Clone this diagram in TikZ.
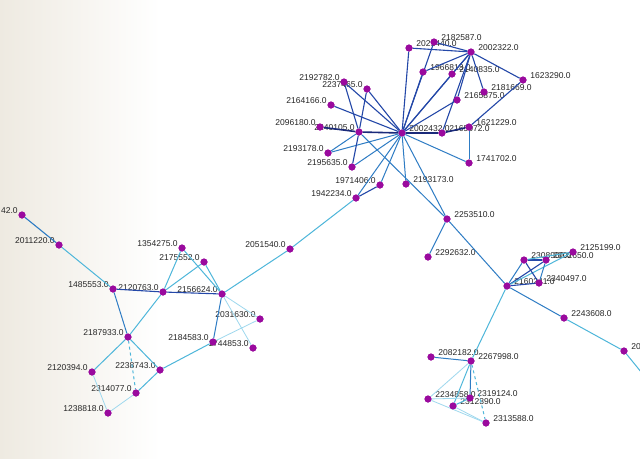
\documentclass[tikz,border=0pt]{standalone}
\usepackage{fontspec}
\setmainfont{Liberation Sans}
\begin{document}
\begin{tikzpicture}[x=1pt,y=-1pt,
  v/.style={circle,fill=nodec,inner sep=0pt,minimum size=7pt},
  lbl/.style={font=\fontsize{8.5}{9}\selectfont,text=black!85,inner sep=0.5pt,yshift=4pt},
  R/.style={label={[lbl,label distance=3pt]right:#1}},
  L/.style={label={[lbl,label distance=0pt]left:#1}},
  dk/.style={draw=edk,line width=1.1pt},
  dd/.style={draw=eddk,line width=1.6pt},
  md/.style={draw=emd,line width=1pt},
  lt/.style={draw=elt,line width=1pt},
  vl/.style={draw=evl,line width=0.8pt}]
\definecolor{nodec}{HTML}{9A0A9E}
\definecolor{edk}{HTML}{2448A8}
\definecolor{eddk}{HTML}{1A2A7A}
\definecolor{emd}{HTML}{2E7CC4}
\definecolor{elt}{HTML}{4DB6DA}
\definecolor{evl}{HTML}{9ED8EE}
\definecolor{bgl}{HTML}{EEEAE1}
\useasboundingbox (0,0) rectangle (640,458);
\fill[left color=bgl,right color=white] (0,0) rectangle (160,458);
\fill[white] (160,0) rectangle (640,458);
% nodes
\node[v,R={2002432.0}] (H) at (402,133) {};
\node[v,R={2165072.0}] (a2165072) at (442,133) {};
\node[v,R={1621229.0}] (a1621229) at (469,127) {};
\node[v,R={2021440.0}] (a2021440) at (409,48) {};
\node[v,R={2182587.0}] (a2182587) at (434,42) {};
\node[v,R={2002322.0}] (a2002322) at (471,52) {};
\node[v,R={1966813.0}] (a1966813) at (423,72) {};
\node[v,R={2140835.0}] (a2140835) at (452,74) {};
\node[v,R={1623290.0}] (a1623290) at (523,80) {};
\node[v,R={2181669.0}] (a2181669) at (484,92) {};
\node[v,R={2165875.0}] (a2165875) at (457,100) {};
\node[v,L={2192782.0}] (a2192782) at (344,82) {};
\node[v,L={2237465.0}] (a2237465) at (367,89) {};
\node[v,L={2164166.0}] (a2164166) at (331,105) {};
\node[v,L={2096180.0}] (a2096180) at (320,127) {};
\node[v,L={2240105.0}] (a2240105) at (359,132) {};
\node[v,L={2193178.0}] (a2193178) at (328,153) {};
\node[v,L={2195635.0}] (a2195635) at (352,167) {};
\node[v,L={1971406.0}] (a1971406) at (380,185) {};
\node[v,L={1942234.0}] (a1942234) at (356,198) {};
\node[v,R={2193173.0}] (a2193173) at (406,184) {};
\node[v,R={1741702.0}] (a1741702) at (469,163) {};
\node[v,R={2253510.0}] (a2253510) at (447,219) {};
\node[v,R={2292632.0}] (a2292632) at (428,257) {};
\node[v,R={2160241.0}] (a2160241) at (507,286) {};
\node[v,R={2308900.0}] (a2308900) at (524,260) {};
\node[v,R={2002650.0}] (a2002650) at (546,260) {};
\node[v,R={2125199.0}] (a2125199) at (573,252) {};
\node[v,R={2340497.0}] (a2340497) at (539,283) {};
\node[v,R={2243608.0}] (a2243608) at (564,318) {};
\node[v,R={20}] (aR20) at (624,351) {};
\coordinate (offR) at (646,378);
\node[v,R={2082182.0}] (a2082182) at (431,357) {};
\node[v,R={2267998.0}] (a2267998) at (471,361) {};
\node[v,R={2234858.0}] (a2234858) at (428,399) {};
\node[v,R={2319124.0}] (a2319124) at (470,398) {};
\node[v,R={2312390.0}] (a2312390) at (453,406) {};
\node[v,R={2313588.0}] (a2313588) at (486,423) {};
\node[v,L={42.0}] (a42) at (22,215) {};
\node[v,L={2011220.0}] (a2011220) at (59,245) {};
\node[v,L={1354275.0}] (a1354275) at (182,248) {};
\node[v,L={2175552.0}] (a2175552) at (204,262) {};
\node[v,L={2051540.0}] (a2051540) at (290,249) {};
\node[v,L={1485553.0}] (a1485553) at (113,289) {};
\node[v,L={2120763.0}] (a2120763) at (163,292) {};
\node[v,L={2156624.0}] (a2156624) at (222,294) {};
\node[v,L={2031630.0}] (a2031630) at (260,319) {};
\node[v,L={2187933.0}] (a2187933) at (128,337) {};
\node[v,L={2184583.0}] (a2184583) at (213,342) {};
\node[v,L={1744853.0}] (a1744853) at (253,348) {};
\node[v,L={2238743.0}] (a2238743) at (160,370) {};
\node[v,L={2314077.0}] (a2314077) at (136,393) {};
\node[v,L={2120394.0}] (a2120394) at (92,372) {};
\node[v,L={1238818.0}] (a1238818) at (108,413) {};
% edges
\foreach \b in {a2021440,a2182587,a2002322,a1966813,a2140835,a2165875,a2192782,a2237465,a2164166}
  \draw[dk] (H) -- (\b);
\draw[dd] (a2096180) -- (a2240105) -- (H);
\draw[dd] (H) -- (a2165072) -- (a1621229);
\foreach \b in {a2193178,a2195635,a1971406,a1942234,a2193173,a1741702}
  \draw[md] (H) -- (\b);
\draw[dk] (a2021440) -- (a2002322);
\draw[dk] (a2182587) -- (a2002322);
\draw[dk] (a2002322) -- (a1966813);
\draw[dk] (a2002322) -- (a2140835);
\draw[dk] (a2002322) -- (a2165875);
\draw[dk] (a2002322) -- (a2181669);
\draw[dk] (a2002322) -- (a2165072);
\draw[dk] (a2002322) -- (a1623290);
\draw[dk] (a1623290) -- (a1621229);
\draw[md] (a1621229) -- (a1741702);
\draw[dk] (a2192782) -- (a2240105);
\draw[dk] (a2237465) -- (a2240105);
\draw[dk] (a2240105) -- (a2195635);
\draw[md] (a2240105) -- (a2193178);
\draw[md] (a2240105) -- (a2253510);
\draw[md] (H) -- (a2253510);
\draw[dk] (a1942234) -- (a1971406);
\draw[lt] (a1942234) -- (a2051540);
\draw[lt] (a2051540) -- (a2156624);
\draw[dk] (a2120763) -- (a2156624);
\draw[dk] (a2120763) -- (a1485553);
\draw[lt] (a1354275) -- (a2120763);
\draw[lt] (a1354275) -- (a2156624);
\draw[lt] (a2175552) -- (a2120763);
\draw[lt] (a2175552) -- (a2156624);
\draw[lt] (a1485553) -- (a2011220);
\draw[emd,line width=1.1pt] (a2011220) -- (a42);
\draw[md] (a1485553) -- (a2187933);
\draw[lt] (a2120763) -- (a2187933);
\draw[lt] (a2187933) -- (a2120394);
\draw[lt] (a2187933) -- (a2238743);
\draw[lt,dashed] (a2187933) -- (a2314077);
\draw[lt] (a2238743) -- (a2314077);
\draw[lt] (a2238743) -- (a2184583);
\draw[vl] (a2314077) -- (a1238818);
\draw[vl] (a2120394) -- (a1238818);
\draw[md] (a2156624) -- (a2184583);
\draw[vl] (a2184583) -- (a2031630);
\draw[vl] (a2156624) -- (a2031630);
\draw[vl] (a2156624) -- (a1744853);
\draw[md] (a2253510) -- (a2292632);
\draw[md] (a2253510) -- (a2160241);
\draw[md] (a2160241) -- (a2308900);
\draw[dk] (a2160241) -- (a2002650);
\draw[lt] (a2160241) -- (a2125199);
\draw[dk] (a2160241) -- (a2340497);
\draw[dk] (a2308900) -- (a2002650);
\draw[dk] (a2308900) -- (a2340497);
\draw[md] (a2002650) -- (a2340497);
\draw[lt] (a2308900) -- (a2125199);
\draw[md] (a2160241) -- (a2243608);
\draw[lt] (a2243608) -- (aR20);
\draw[lt] (aR20) -- (offR);
\draw[lt] (a2160241) -- (a2267998);
\draw[md] (a2267998) -- (a2082182);
\draw[vl] (a2267998) -- (a2234858);
\draw[md] (a2267998) -- (a2319124);
\draw[lt] (a2267998) -- (a2312390);
\draw[lt,dashed] (a2267998) -- (a2313588);
\draw[vl] (a2234858) -- (a2319124);
\draw[vl] (a2234858) -- (a2313588);
\draw[lt] (a2312390) -- (a2319124);
\draw[vl] (a2312390) -- (a2313588);
% nodes drawn again above the edges
\foreach \n in {H,a2165072,a1621229,a2021440,a2182587,a2002322,a1966813,a2140835,a1623290,a2181669,a2165875,a2192782,a2237465,a2164166,a2096180,a2240105,a2193178,a2195635,a1971406,a1942234,a2193173,a1741702,a2253510,a2292632,a2160241,a2308900,a2002650,a2125199,a2340497,a2243608,aR20,a2082182,a2267998,a2234858,a2319124,a2312390,a2313588,a42,a2011220,a1354275,a2175552,a2051540,a1485553,a2120763,a2156624,a2031630,a2187933,a2184583,a1744853,a2238743,a2314077,a2120394,a1238818}
  \fill[nodec] (\n) circle (3.5pt);
\end{tikzpicture}
\end{document}
